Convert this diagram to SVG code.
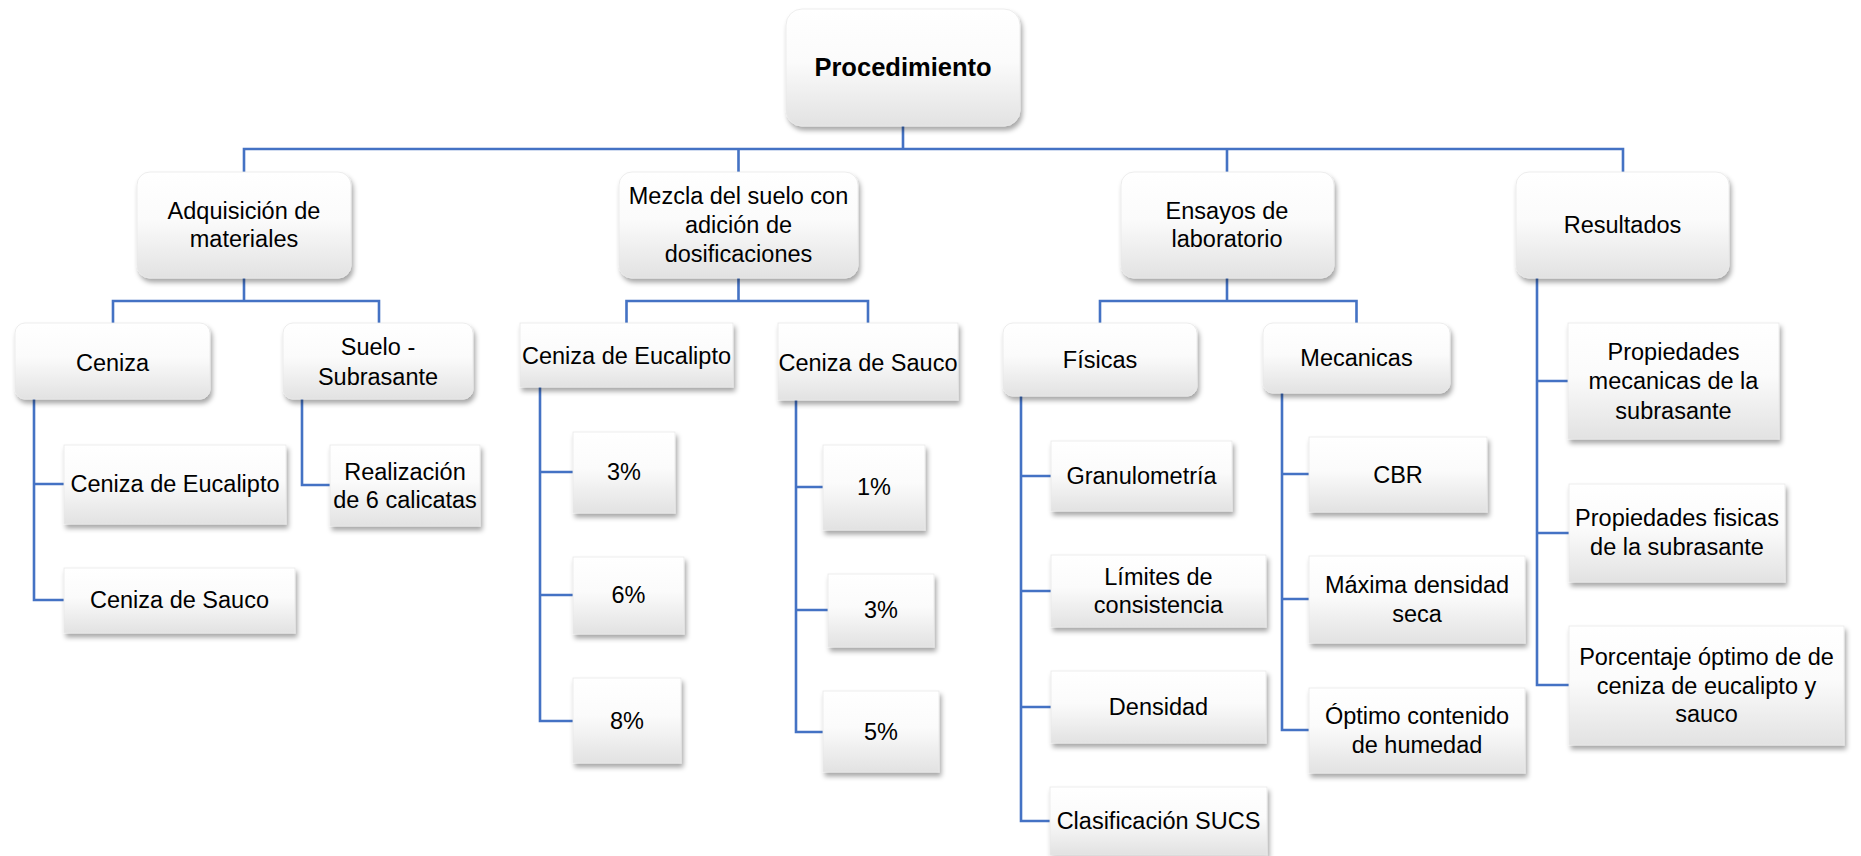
<svg xmlns="http://www.w3.org/2000/svg" width="1861" height="856" viewBox="0 0 1861 856">
<defs>
<linearGradient id="g" x1="0" y1="0" x2="0" y2="1">
<stop offset="0" stop-color="#ffffff"/>
<stop offset="0.45" stop-color="#fbfbfb"/>
<stop offset="1" stop-color="#e2e2e2"/>
</linearGradient>
<filter id="sh" x="-10%" y="-10%" width="125%" height="135%">
<feDropShadow dx="2" dy="4" stdDeviation="2.5" flood-color="#000" flood-opacity="0.35"/>
</filter>
</defs>
<style>
.b{fill:url(#g);filter:url(#sh);stroke:#e8e8e8;stroke-width:0.8}
.t{font-family:"Liberation Sans",Arial,sans-serif;font-size:23.5px;fill:#000;text-anchor:middle}
.tb{font-family:"Liberation Sans",Arial,sans-serif;font-size:25.5px;font-weight:bold;fill:#000;text-anchor:middle}
.c{fill:none;stroke:#4472C4;stroke-width:2.6}
</style>
<rect width="1861" height="856" fill="#fff"/>
<g id="connectors">
<path class="c" d="M903 126V149M244 172V149H1623V172M738.5 149V172M1227 149V172"/>
<path class="c" d="M244 278V301M113 323V301H379V323"/>
<path class="c" d="M738.5 278V301M626.5 323V301H868V323"/>
<path class="c" d="M1227 278V301M1100 323V301H1356.5V323"/>
<path class="c" d="M34 399V600H64M34 484H64"/>
<path class="c" d="M302 399V485H330"/>
<path class="c" d="M540 387V721H573M540 472H573M540 595H573"/>
<path class="c" d="M796 400V732H823M796 487H823M796 610H828"/>
<path class="c" d="M1021 396V821H1051M1021 476H1051M1021 591H1051M1021 707H1051"/>
<path class="c" d="M1282 393V730H1309M1282 474H1309M1282 599H1309"/>
<path class="c" d="M1537 278V685H1569M1537 381H1568M1537 533H1569"/>
</g>
<g id="n-procedimiento"><rect class="b" x="786" y="9" width="234" height="117" rx="16"/><text class="tb" x="903" y="76">Procedimiento</text></g>
<g id="n-adquisicion"><rect class="b" x="137" y="172" width="214" height="106" rx="13"/><text class="t" x="244" y="219">Adquisición de</text><text class="t" x="244" y="247">materiales</text></g>
<g id="n-mezcla"><rect class="b" x="619" y="172" width="239" height="106" rx="13"/><text class="t" x="738.5" y="204">Mezcla del suelo con</text><text class="t" x="738.5" y="233">adición de</text><text class="t" x="738.5" y="262">dosificaciones</text></g>
<g id="n-ensayos"><rect class="b" x="1121" y="172" width="213" height="106" rx="13"/><text class="t" x="1227" y="219">Ensayos de</text><text class="t" x="1227" y="247">laboratorio</text></g>
<g id="n-resultados"><rect class="b" x="1516" y="172" width="213" height="106" rx="13"/><text class="t" x="1622.5" y="233">Resultados</text></g>
<g id="n-ceniza"><rect class="b" x="15" y="323" width="195" height="76" rx="10"/><text class="t" x="112.5" y="371">Ceniza</text></g>
<g id="n-suelo"><rect class="b" x="283" y="323" width="190" height="76" rx="10"/><text class="t" x="378" y="355">Suelo -</text><text class="t" x="378" y="385">Subrasante</text></g>
<g id="n-m-eucalipto"><rect class="b" x="520" y="323" width="213" height="64"/><text class="t" x="626.5" y="364">Ceniza de Eucalipto</text></g>
<g id="n-m-sauco"><rect class="b" x="778" y="323" width="180" height="77"/><text class="t" x="868" y="371">Ceniza de Sauco</text></g>
<g id="n-fisicas"><rect class="b" x="1003" y="323" width="194" height="73" rx="10"/><text class="t" x="1100" y="368">Físicas</text></g>
<g id="n-mecanicas"><rect class="b" x="1263" y="323" width="187" height="70" rx="10"/><text class="t" x="1356.5" y="366">Mecanicas</text></g>
<g id="n-prop-mec"><rect class="b" x="1568" y="323" width="211" height="116"/><text class="t" x="1673.5" y="360">Propiedades</text><text class="t" x="1673.5" y="389">mecanicas de la</text><text class="t" x="1673.5" y="419">subrasante</text></g>
<g id="n-a-eucalipto"><rect class="b" x="64" y="445" width="222" height="79"/><text class="t" x="175" y="492">Ceniza de Eucalipto</text></g>
<g id="n-a-sauco"><rect class="b" x="64" y="568" width="231" height="65"/><text class="t" x="179.5" y="608">Ceniza de Sauco</text></g>
<g id="n-realizacion"><rect class="b" x="330" y="445" width="150" height="81"/><text class="t" x="405" y="480">Realización</text><text class="t" x="405" y="508">de 6 calicatas</text></g>
<g id="n-e3"><rect class="b" x="573" y="432" width="102" height="81"/><text class="t" x="624" y="480">3%</text></g>
<g id="n-e6"><rect class="b" x="573" y="557" width="111" height="77"/><text class="t" x="628.5" y="603">6%</text></g>
<g id="n-e8"><rect class="b" x="573" y="678" width="108" height="85"/><text class="t" x="627" y="729">8%</text></g>
<g id="n-s1"><rect class="b" x="823" y="445" width="102" height="85"/><text class="t" x="874" y="495">1%</text></g>
<g id="n-s3"><rect class="b" x="828" y="574" width="106" height="73"/><text class="t" x="881" y="618">3%</text></g>
<g id="n-s5"><rect class="b" x="823" y="691" width="116" height="81"/><text class="t" x="881" y="740">5%</text></g>
<g id="n-granulometria"><rect class="b" x="1051" y="441" width="181" height="70"/><text class="t" x="1141.5" y="484">Granulometría</text></g>
<g id="n-limites"><rect class="b" x="1051" y="555" width="215" height="72"/><text class="t" x="1158.5" y="585">Límites de</text><text class="t" x="1158.5" y="613">consistencia</text></g>
<g id="n-densidad"><rect class="b" x="1051" y="671" width="215" height="72"/><text class="t" x="1158.5" y="715">Densidad</text></g>
<g id="n-clasificacion"><rect class="b" x="1050" y="787" width="217" height="68"/><text class="t" x="1158.5" y="829">Clasificación SUCS</text></g>
<g id="n-cbr"><rect class="b" x="1309" y="437" width="178" height="75"/><text class="t" x="1398" y="483">CBR</text></g>
<g id="n-maxima"><rect class="b" x="1309" y="556" width="216" height="87"/><text class="t" x="1417" y="593">Máxima densidad</text><text class="t" x="1417" y="622">seca</text></g>
<g id="n-optimo"><rect class="b" x="1309" y="688" width="216" height="85"/><text class="t" x="1417" y="724">Óptimo contenido</text><text class="t" x="1417" y="753">de humedad</text></g>
<g id="n-prop-fis"><rect class="b" x="1569" y="484" width="216" height="98"/><text class="t" x="1677" y="526">Propiedades fisicas</text><text class="t" x="1677" y="555">de la subrasante</text></g>
<g id="n-porcentaje"><rect class="b" x="1569" y="626" width="275" height="119"/><text class="t" x="1706.5" y="665">Porcentaje óptimo de de</text><text class="t" x="1706.5" y="694">ceniza de eucalipto y</text><text class="t" x="1706.5" y="722">sauco</text></g>
</svg>
